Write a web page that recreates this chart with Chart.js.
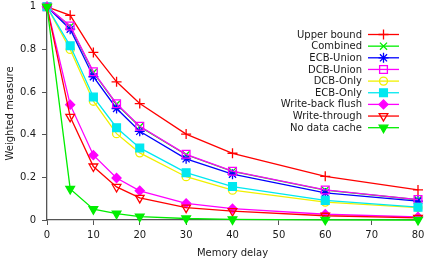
<!DOCTYPE html>
<html>
<head>
<meta charset="utf-8">
<script src="https://cdn.jsdelivr.net/npm/chart.js@4"></script>
<style>
  body { margin: 0; background: #fff; }
  #wrap { width: 427px; height: 259px; }
</style>
</head>
<body>
<div id="wrap"><canvas id="chart" width="427" height="259"></canvas></div>
<script>
// memory delay values (x)
const delays = [0, 5, 10, 15, 20, 30, 40, 60, 80];

// series
const upperBound      = [1, 0.960, 0.786, 0.648, 0.546, 0.403, 0.313, 0.205, 0.141];
const combined        = [1, 0.908, 0.692, 0.543, 0.438, 0.306, 0.228, 0.140, 0.095];
const ecbUnion        = [1, 0.895, 0.672, 0.523, 0.416, 0.287, 0.215, 0.127, 0.089];
const dcbUnion        = [1, 0.910, 0.695, 0.545, 0.440, 0.308, 0.229, 0.141, 0.096];
const dcbOnly         = [1, 0.800, 0.557, 0.405, 0.315, 0.203, 0.140, 0.084, 0.058];
const ecbOnly         = [1, 0.817, 0.577, 0.433, 0.338, 0.222, 0.157, 0.092, 0.060];
const writeBackFlush  = [1, 0.541, 0.304, 0.197, 0.137, 0.078, 0.053, 0.027, 0.014];
const writeThrough    = [1, 0.484, 0.251, 0.155, 0.104, 0.058, 0.042, 0.020, 0.010];
const noDataCache     = [1, 0.146, 0.051, 0.030, 0.016, 0.007, 0.003, 0.001, 0.000];

const seriesNames = ['Upper bound', 'Combined', 'ECB-Union', 'DCB-Union', 'DCB-Only',
                     'ECB-Only', 'Write-back flush', 'Write-through', 'No data cache'];
const seriesValues = [upperBound, combined, ecbUnion, dcbUnion, dcbOnly,
                      ecbOnly, writeBackFlush, writeThrough, noDataCache];

const yTicks = [0, 0.2, 0.4, 0.6, 0.8, 1];
const xTicks = [0, 10, 20, 30, 40, 50, 60, 70, 80];

// marker look for each series (gnuplot-ish point types)
const looks = [
    { color: '#ff0000', style: 'cross',    radius: 5,   fill: false, rot: 0 },
    { color: '#00ee00', style: 'crossRot', radius: 5,   fill: false, rot: 0 },
    { color: '#0000ff', style: 'star',     radius: 5,   fill: false, rot: 0 },
    { color: '#ff00ff', style: 'rect',     radius: 5.5, fill: false, rot: 0 },
    { color: '#f0f000', style: 'circle',   radius: 4,   fill: false, rot: 0 },
    { color: '#00e8f0', style: 'rect',     radius: 5.5, fill: true,  rot: 0 },
    { color: '#ff00ff', style: 'rectRot',  radius: 4.5, fill: true,  rot: 0 },
    { color: '#ff0000', style: 'triangle', radius: 5,   fill: false, rot: 180 },
    { color: '#00ee00', style: 'triangle', radius: 5,   fill: true,  rot: 180 }
];

const datasets = seriesNames.map((name, i) => ({
    label: name,
    data: delays.map((d, j) => ({ x: d, y: seriesValues[i][j] })),
    borderColor: looks[i].color,
    backgroundColor: looks[i].fill ? looks[i].color : 'rgba(0,0,0,0)',
    pointBorderColor: looks[i].color,
    pointStyle: looks[i].style,
    pointRadius: looks[i].radius,
    pointRotation: looks[i].rot,
    pointBorderWidth: 1.3,
    borderWidth: 1.3,
    tension: 0,
    clip: false,
    order: seriesNames.length - i
}));

// legend drawn gnuplot style: text right aligned, sample line + marker on the right
const keyPlugin = {
    id: 'gnuKey',
    afterDraw(chart) {
        const ctx = chart.ctx;
        ctx.save();
        ctx.font = '10px "DejaVu Sans"';
        ctx.textAlign = 'right';
        ctx.textBaseline = 'middle';
        chart.data.datasets.forEach((ds, i) => {
            const y = 34.5 + i * 11.65;
            ctx.fillStyle = '#1a1a1a';
            ctx.fillText(ds.label, 362, y + 0.5);
            ctx.strokeStyle = ds.borderColor;
            ctx.lineWidth = 1.3;
            ctx.beginPath();
            ctx.moveTo(368, y);
            ctx.lineTo(399, y);
            ctx.stroke();
            ctx.fillStyle = ds.backgroundColor;
            ctx.strokeStyle = ds.pointBorderColor;
            Chart.helpers.drawPoint(ctx, {
                pointStyle: ds.pointStyle,
                radius: ds.pointRadius,
                rotation: ds.pointRotation,
                borderWidth: 1.3
            }, 383.5, y);
        });
        ctx.restore();
    }
};

const axisColor = '#555555';
const textColor = '#1a1a1a';

new Chart(document.getElementById('chart'), {
    type: 'line',
    data: { datasets: datasets },
    plugins: [keyPlugin],
    options: {
        responsive: false,
        devicePixelRatio: 1,
        animation: false,
        layout: { padding: { top: 5, right: 9, left: 0, bottom: 0 } },
        plugins: {
            legend: { display: false },
            tooltip: { enabled: false }
        },
        scales: {
            x: {
                type: 'linear',
                min: 0,
                max: 80,
                afterBuildTicks: s => { s.ticks = xTicks.map(v => ({ value: v })); },
                afterFit: s => { s.height = 39; s.paddingLeft = 0; s.paddingRight = 0; },
                border: { color: axisColor, width: 1.3 },
                grid: { drawOnChartArea: false, tickLength: 5, color: axisColor },
                ticks: { color: textColor, font: { family: 'DejaVu Sans', size: 10 }, padding: 4, maxRotation: 0 },
                title: { display: true, text: 'Memory delay', color: textColor,
                         font: { family: 'DejaVu Sans', size: 10 }, padding: { top: 0, bottom: 0 } }
            },
            y: {
                min: 0,
                max: 1,
                afterBuildTicks: s => { s.ticks = yTicks.map(v => ({ value: v })); },
                afterFit: s => { s.width = 47; s.paddingTop = 0; s.paddingBottom = 0; },
                border: { color: axisColor, width: 1.3 },
                grid: { drawOnChartArea: false, tickLength: 5, color: axisColor },
                ticks: { color: textColor, font: { family: 'DejaVu Sans', size: 10 }, padding: 6,
                         callback: v => String(Number(v.toFixed(1))) },
                title: { display: true, text: 'Weighted measure', color: textColor,
                         font: { family: 'DejaVu Sans', size: 10 }, padding: { top: 4, bottom: 0 } }
            }
        }
    }
});
</script>
</body>
</html>
